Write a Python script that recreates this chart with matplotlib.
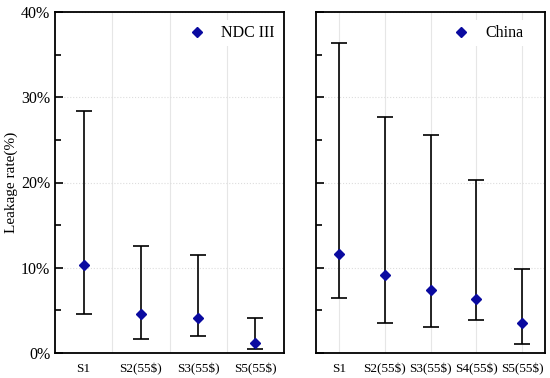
import matplotlib
matplotlib.use("Agg")
import matplotlib.pyplot as plt
import numpy as np
from matplotlib.ticker import MultipleLocator, PercentFormatter

plt.rcParams['font.family'] = ['Liberation Serif', 'DejaVu Serif']

NDC_LABELS = ['S1', 'S2(55$)', 'S3(55$)', 'S5(55$)']
NDC_MID = [10.3, 4.6, 4.1, 1.2]
NDC_LOW = [4.6, 1.6, 1.95, 0.5]
NDC_HIGH = [28.4, 12.6, 11.5, 4.15]

CHN_LABELS = ['S1', 'S2(55$)', 'S3(55$)', 'S4(55$)', 'S5(55$)']
CHN_MID = [11.6, 9.2, 7.35, 6.3, 3.5]
CHN_LOW = [6.4, 3.55, 3.1, 3.9, 1.05]
CHN_HIGH = [36.4, 27.7, 25.6, 20.3, 9.9]

fig = plt.figure(figsize=(5.5, 3.78), dpi=100)
ax1 = fig.add_axes([55/550, 25/378, 229/550, 341/378])
ax2 = fig.add_axes([316/550, 25/378, 229/550, 341/378])


def panel(ax, labels, mid, low, high, name, grid_at_points, leg_x):
    x = np.arange(1, len(labels) + 1)
    mid = np.array(mid)
    yerr = [mid - np.array(low), np.array(high) - mid]
    ax.errorbar(x, mid, yerr=yerr, fmt='none', ecolor='black',
                elinewidth=1.2, capsize=6, capthick=1.2, zorder=3)
    ax.plot(x, mid, 'D', color='#0a0aa0', markersize=5.5, zorder=4,
            label=name, linestyle='none')
    ax.set_xlim(0.5, len(labels) + 0.5)
    ax.set_ylim(0, 40)
    ax.set_xticks(x)
    ax.set_xticklabels(labels, fontsize=9.5)
    ax.tick_params(axis='x', length=0, pad=7)
    ax.yaxis.set_major_locator(MultipleLocator(10))
    ax.yaxis.set_minor_locator(MultipleLocator(5))
    ax.tick_params(axis='y', which='both', direction='in', labelsize=11.5)
    ax.tick_params(axis='y', which='major', length=6, width=1.2)
    ax.tick_params(axis='y', which='minor', length=4, width=1.2)
    ax.yaxis.set_major_formatter(PercentFormatter(decimals=0))
    for s in ax.spines.values():
        s.set_linewidth(1.3)
    ax.grid(axis='y', which='major', color='#dddddd', linewidth=0.8,
            linestyle=':')
    if grid_at_points:
        gx = x
    else:
        gx = x[:-1] + 0.5
    for g in gx:
        ax.axvline(g, color='#e6e6e6', linewidth=0.8, zorder=0)
    ax.set_axisbelow(True)
    leg = ax.legend(loc='center right', bbox_to_anchor=(leg_x, 0.938),
                    fontsize=11.5, frameon=True, handletextpad=0.5,
                    borderpad=0.3, borderaxespad=0)
    leg.get_frame().set_edgecolor('none')
    leg.get_frame().set_facecolor('white')
    leg.get_frame().set_alpha(1)


panel(ax1, NDC_LABELS, NDC_MID, NDC_LOW, NDC_HIGH, 'NDC III', False, 0.98)
panel(ax2, CHN_LABELS, CHN_MID, CHN_LOW, CHN_HIGH, 'China', True, 0.925)
ax2.set_yticklabels([])
ax1.set_ylabel('Leakage rate(%)', fontsize=11, labelpad=2)

fig.savefig('out.png', dpi=100)
